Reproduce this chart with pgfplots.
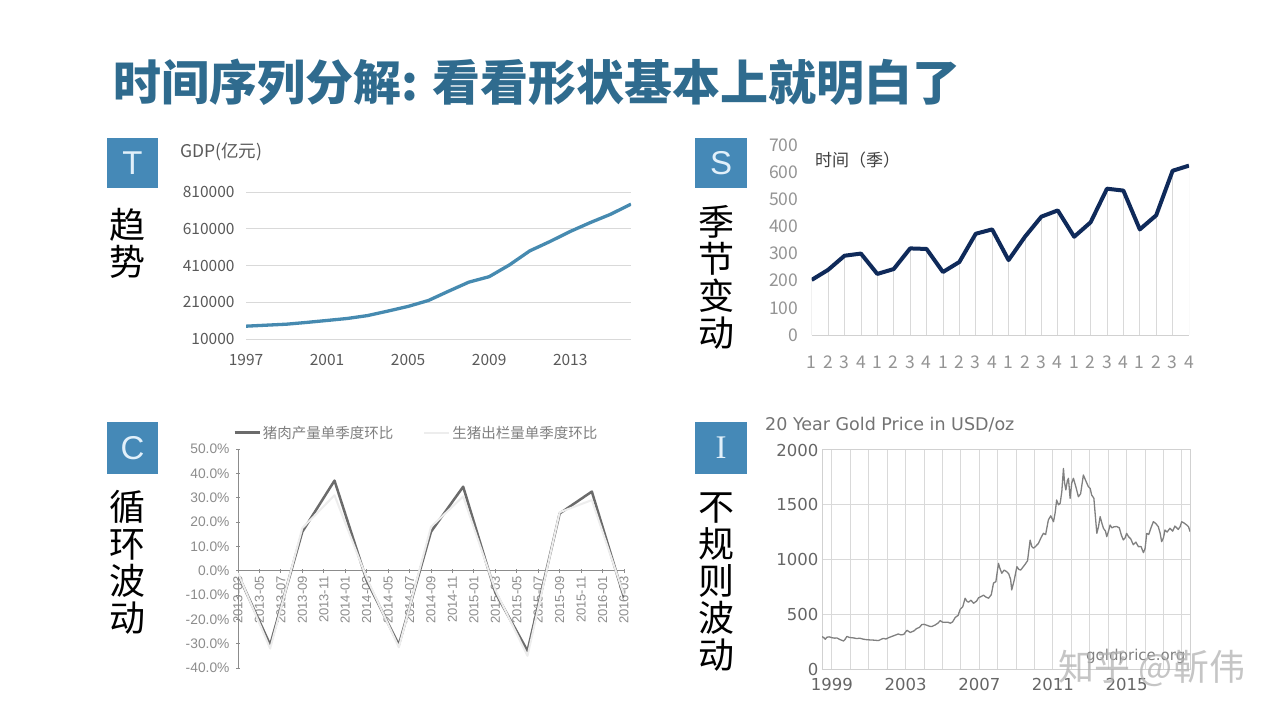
\documentclass[border=0pt]{standalone}
\usepackage{fontspec}
\setmainfont{Noto Sans CJK SC}
\newfontfamily\libsans{Liberation Sans}
\newfontfamily\libserif{Liberation Serif}
\newfontfamily\dejavu{DejaVu Sans}
\usepackage{pgfplots}
\pgfplotsset{compat=1.18}
\usepackage{pgfplotstable}

\definecolor{titleblue}{RGB}{47,107,142}
\definecolor{boxblue}{RGB}{69,137,183}
\definecolor{boxtext}{RGB}{225,240,250}
\definecolor{gdpline}{RGB}{70,138,176}
\definecolor{navy}{RGB}{15,42,90}
\definecolor{ticktxt}{RGB}{89,89,89}
\newcommand\fs[2]{\fontsize{#1}{#2}\selectfont}

% GDP, 100 million yuan
\pgfplotstableread{
year gdp
1997 79715
1998 85196
1999 90564
2000 100280
2001 110863
2002 121717
2003 137422
2004 161840
2005 187319
2006 219439
2007 270232
2008 319516
2009 349081
2010 413030
2011 489301
2012 540367
2013 595244
2014 643974
2015 689052
2016 744127
}\gdp

% quarterly series
\pgfplotstableread{
q v
1 203
2 240
3 292
4 300
5 225
6 243
7 319
8 317
9 232
10 269
11 373
12 389
13 276
14 362
15 436
16 459
17 362
18 415
19 539
20 532
21 389
22 441
23 605
24 624
}\season

% months after 2013-03
\pgfplotstableread{
m pork hog
0 -1.5 -1.0
3 -30.5 -32.0
6 16.0 17.5
9 37.0 31.0
12 -4.0 -3.0
15 -30.5 -31.5
18 16.0 18.0
21 34.5 30.5
24 -9.0 -8.0
27 -33.0 -35.0
30 23.5 24.0
33 32.5 29.0
36 -11.0 -10.0
}\cycle

\pgfplotstableread{
t p
1998.46 298
1998.55 290
1998.64 274
1998.72 292
1998.85 296
1999.00 288
1999.15 284
1999.27 286
1999.45 270
1999.63 258
1999.72 275
1999.81 300
1999.95 290
2000.08 288
2000.18 286
2000.35 280
2000.50 284
2000.72 274
2000.90 270
2001.05 268
2001.26 266
2001.40 264
2001.53 262
2001.70 276
2001.80 282
2001.92 276
2002.10 290
2002.35 306
2002.60 322
2002.75 314
2002.90 318
2003.07 356
2003.25 336
2003.45 350
2003.60 372
2003.75 382
2003.88 408
2004.00 410
2004.15 402
2004.30 392
2004.42 390
2004.60 404
2004.75 420
2004.88 444
2005.00 430
2005.15 428
2005.30 430
2005.42 420
2005.55 432
2005.69 472
2005.85 492
2005.96 546
2006.10 570
2006.23 648
2006.33 620
2006.41 612
2006.55 630
2006.69 602
2006.85 622
2006.96 652
2007.10 664
2007.23 676
2007.35 660
2007.50 648
2007.65 680
2007.77 786
2007.90 800
2008.04 966
2008.12 920
2008.22 876
2008.35 905
2008.49 890
2008.60 870
2008.70 820
2008.76 724
2008.90 816
2009.04 936
2009.15 910
2009.25 906
2009.38 934
2009.49 958
2009.62 990
2009.76 1178
2009.85 1120
2009.94 1104
2010.05 1120
2010.21 1148
2010.35 1200
2010.48 1240
2010.60 1228
2010.75 1362
2010.88 1400
2011.03 1346
2011.12 1430
2011.20 1544
2011.30 1500
2011.39 1514
2011.48 1620
2011.57 1832
2011.63 1700
2011.70 1636
2011.78 1720
2011.84 1742
2011.93 1560
2012.02 1700
2012.11 1742
2012.25 1660
2012.38 1574
2012.50 1600
2012.65 1772
2012.78 1720
2012.92 1666
2013.02 1650
2013.10 1590
2013.22 1560
2013.38 1240
2013.47 1300
2013.56 1392
2013.66 1330
2013.74 1286
2013.85 1260
2013.92 1210
2014.00 1250
2014.10 1316
2014.20 1290
2014.32 1300
2014.46 1302
2014.60 1290
2014.72 1220
2014.82 1180
2014.92 1200
2015.00 1240
2015.10 1210
2015.22 1190
2015.36 1136
2015.50 1160
2015.64 1118
2015.78 1120
2015.91 1064
2016.00 1100
2016.09 1240
2016.20 1230
2016.32 1290
2016.45 1346
2016.58 1330
2016.72 1300
2016.82 1240
2016.90 1164
2017.00 1200
2017.08 1270
2017.20 1252
2017.35 1286
2017.50 1260
2017.62 1306
2017.72 1290
2017.80 1276
2017.90 1300
2017.99 1346
2018.10 1336
2018.26 1316
2018.36 1300
2018.44 1256
}\gold

\begin{document}
\begin{tikzpicture}
\useasboundingbox (0,0) rectangle (1280pt,720pt);
\fill[white] (0,0) rectangle (1280pt,720pt);

% title
\node[anchor=west, inner sep=0pt, text=titleblue, font=\fs{48}{52}\bfseries] at (113pt,638pt) {时间序列分解: 看看形状基本上就明白了};

% letter boxes
\fill[boxblue] (107pt,532pt) rectangle (158pt,582pt);
\node[text=boxtext, font=\libsans\fs{33}{36}] at (132.5pt,557pt) {T};
\fill[boxblue] (695pt,532pt) rectangle (747pt,582pt);
\node[text=boxtext, font=\libsans\fs{33}{36}] at (721pt,557pt) {S};
\fill[boxblue] (107pt,246pt) rectangle (158pt,298pt);
\node[text=boxtext, font=\libsans\fs{33}{36}] at (132.5pt,272pt) {C};
\fill[boxblue] (695pt,246pt) rectangle (747pt,298pt);
\node[text=boxtext, font=\libserif\fs{33}{36}] at (721pt,272pt) {I};

% vertical labels
\node[anchor=north, inner sep=0pt, align=center, font=\fs{36}{37}] at (127pt,512pt) {趋\\势};
\node[anchor=north, inner sep=0pt, align=center, font=\fs{36}{37}] at (716pt,515pt) {季\\节\\变\\动};
\node[anchor=north, inner sep=0pt, align=center, font=\fs{36}{37}] at (127pt,230pt) {循\\环\\波\\动};
\node[anchor=north, inner sep=0pt, align=center, font=\fs{36}{37}] at (716pt,227pt) {不\\规\\则\\波\\动};

% T: trend
\begin{axis}[at={(246pt,381pt)}, anchor=south west, scale only axis,
  width=385pt, height=147pt,
  xmin=1997, xmax=2016, ymin=10000, ymax=810000,
  xtick={1997,2001,2005,2009,2013},
  ytick={10000,210000,410000,610000,810000},
  scaled y ticks=false,
  /pgf/number format/fixed, /pgf/number format/1000 sep={},
  /pgf/number format/assume math mode=true,
  axis line style={draw=none}, major tick length=0pt,
  ymajorgrids, grid style={color=black!15, line width=0.8pt},
  tick label style={font=\fs{15.5}{18}, text=ticktxt},
  yticklabel shift=8pt, xticklabel shift=12pt]
\addplot[gdpline, line width=3.3pt, line join=round] table[x=year, y=gdp]{\gdp};
\end{axis}
\node[anchor=west, inner sep=0pt, text=ticktxt, font=\fs{17.5}{20}] at (180pt,568pt) {GDP(亿元)};

% S: seasonal
\begin{axis}[at={(811.7pt,385pt)}, anchor=south west, scale only axis,
  width=377.3pt, height=190pt,
  xmin=1, xmax=24, ymin=0, ymax=700,
  xtick={1,...,24},
  xticklabels={1,2,3,4,1,2,3,4,1,2,3,4,1,2,3,4,1,2,3,4,1,2,3,4},
  ytick={0,100,...,700},
  /pgf/number format/assume math mode=true,
  axis line style={draw=none}, major tick length=0pt,
  extra y ticks={0}, extra y tick labels={},
  extra y tick style={ymajorgrids=true, major grid style={black!18, line width=0.8pt}},
  tick label style={font=\fs{17.5}{20}, text=black!42},
  yticklabel shift=10pt, xticklabel shift=17pt]
\addplot[ycomb, draw=black!15, line width=0.8pt] table[x=q, y=v]{\season};
\addplot[navy, line width=4pt, line join=round] table[x=q, y=v]{\season};
\end{axis}
\node[anchor=west, inner sep=0pt, text=black!75, font=\fs{17}{19}] at (815pt,560pt) {时间（季）};

% C: cycle
\begin{axis}[at={(238pt,52pt)}, anchor=south west, scale only axis,
  width=386pt, height=219pt,
  xmin=0, xmax=36, ymin=-40, ymax=50,
  axis x line=middle, axis y line=left,
  axis line style={-, draw=black!45, line width=1pt},
  hide obscured x ticks=false, hide obscured y ticks=false,
  xtick={0,2,...,36},
  xticklabels={2013-03,2013-05,2013-07,2013-09,2013-11,2014-01,2014-03,2014-05,2014-07,2014-09,2014-11,2015-01,2015-03,2015-05,2015-07,2015-09,2015-11,2016-01,2016-03},
  ytick={-40,-30,...,50},
  yticklabel={\pgfmathprintnumber[fixed,fixed zerofill,precision=1,assume math mode=true]{\tick}\%},
  tick style={draw=black!45, line width=0.8pt}, major tick length=4pt,
  xticklabel style={rotate=90, anchor=east, font=\libsans\fs{13}{15}, text=black!45},
  yticklabel style={font=\libsans\fs{13.8}{16}, text=black!45},
  yticklabel shift=3pt,
  legend style={at={(axis description cs:-0.02,1.125)}, anchor=north west,
    draw=none, fill=none, legend columns=2, font=\fs{14.5}{16}, text=black!50,
    /tikz/every even column/.append style={column sep=28pt}},
  legend image code/.code={\draw[#1] (0pt,0pt) -- (25pt,0pt);}]
\addplot[black!58, line width=2.5pt, line join=round] table[x=m, y=pork]{\cycle};
\addplot[black!7, line width=2pt, line join=round] table[x=m, y=hog]{\cycle};
\legend{猪肉产量单季度环比, 生猪出栏量单季度环比}
\end{axis}

% I: irregular
\node[anchor=west, inner sep=0pt, text=black!55, font=\dejavu\fs{17.5}{20}] at (765pt,295pt) {20 Year Gold Price in USD/oz};
\begin{axis}[at={(822pt,50.7pt)}, anchor=south west, scale only axis,
  width=368pt, height=219.3pt,
  xmin=1998.46, xmax=2018.44, ymin=0, ymax=2000,
  xtick={1999,2003,2007,2011,2015}, minor xtick={2000,...,2018},
  ytick={0,500,...,2000},
  /pgf/number format/1000 sep={}, /pgf/number format/assume math mode=true,
  xmajorgrids, xminorgrids, ymajorgrids,
  grid style={black!15, line width=1pt}, minor grid style={black!15, line width=1pt},
  axis line style={black!18, line width=1pt},
  major tick length=0pt, minor tick length=0pt,
  tick label style={font=\dejavu\fs{16.5}{19}, text=black!60},
  yticklabel shift=0pt, xticklabel shift=5pt]
\addplot[black!50, line width=1.3pt, line join=round] table[x=t, y=p]{\gold};
\end{axis}
\node[anchor=west, inner sep=0pt, text=black!50, font=\dejavu\fs{15}{17}] at (1086pt,64pt) {goldprice.org};
\node[inner sep=0pt, text=black!30, opacity=0.75, font=\fs{36}{38}] at (1152pt,52pt) {知乎 @靳伟};
\end{tikzpicture}
\end{document}
